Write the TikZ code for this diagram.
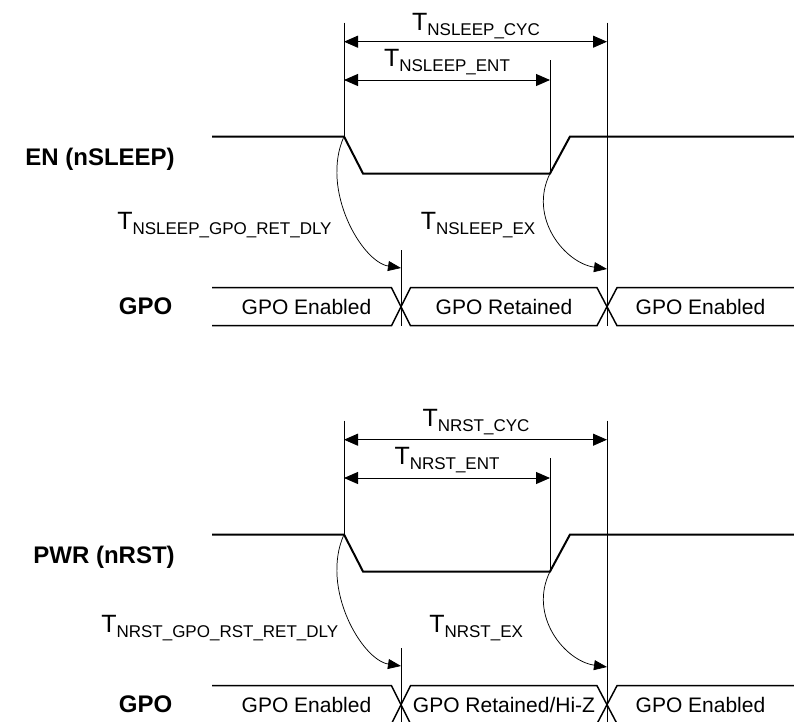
\documentclass[tikz,border=0pt]{standalone}
\usepackage{fontspec}
\setmainfont{Liberation Sans}
\usetikzlibrary{arrows.meta}
\newcommand\Tlab[1]{{\fontsize{18.75pt}{20pt}\selectfont T}\raisebox{-3.75pt}{\fontsize{12.75pt}{14pt}\selectfont #1}}
\tikzset{
  sig/.style={line width=1.5pt, line join=miter},
  bus/.style={line width=1.1pt, line join=miter},
  guide/.style={line width=0.75pt},
  dim/.style={line width=0.7pt, {Triangle[length=10.5pt,width=9pt]}-{Triangle[length=10.5pt,width=9pt]}},
  delay/.style={line width=0.55pt, -{Triangle[length=9.75pt,width=7.5pt]}},
  lbl/.style={inner sep=0pt, font=\fontsize{18pt}{20pt}\selectfont\bfseries},
  bustxt/.style={inner sep=0pt, anchor=base, font=\fontsize{15.75pt}{18pt}\selectfont},
  tl/.style={inner sep=0pt}
}
\begin{document}
\begin{tikzpicture}[x=0.75pt, y=-0.75pt]
\useasboundingbox (0,0) rectangle (794,722);
\clip (0,0) rectangle (794,722);
\foreach \dy/\sn/\gn/\bt/\ex/\cyc/\ent/\dly/\dlyx/\exx/\dshift in
  {0/{EN (nSLEEP)}/{GPO Retained}/t/{NSLEEP\_EX}/{NSLEEP\_CYC}/{NSLEEP\_ENT}/{NSLEEP\_GPO\_RET\_DLY}/117/420.5/0,
   398/{PWR (nRST)}/{GPO Retained/Hi-Z}/b/{NRST\_EX}/{NRST\_CYC}/{NRST\_ENT}/{NRST\_GPO\_RST\_RET\_DLY}/101/429/5.5}
{
  \begin{scope}[yshift=-\dy*0.75pt]
  % key coordinates
  \coordinate (hi0\bt) at (212,136.5);
  \coordinate (fall\bt) at (344,136.5);
  \coordinate (low1\bt) at (363,173.5);
  \coordinate (rise\bt) at (550,173.5);
  \coordinate (hi1\bt) at (570,136.5);
  \coordinate (hiE\bt) at (794,136.5);
  \coordinate (v1top\bt) at (344,22.7);
  \coordinate (v2top\bt) at (550,60);
  \coordinate (v3top\bt) at (607,22.7);
  \coordinate (v3bot\bt) at (607,325.7);
  \coordinate (v4top\bt) at (401,250);
  \coordinate (v4bot\bt) at (401,325.7);
  \coordinate (x1\bt) at (401,306.7);
  \coordinate (x2\bt) at (607,306.7);
  \coordinate (tip1\bt) at (401,268);
  \coordinate (tip2\bt) at (607,269);
  \coordinate (cycL\bt) at (344,41.7);
  \coordinate (cycR\bt) at (607,41.7);
  \coordinate (entL\bt) at (344,80);
  \coordinate (entR\bt) at (550,80);
  % signal
  \draw[sig] (hi0\bt) -- (fall\bt) -- (low1\bt) -- (rise\bt) -- (hi1\bt) -- (hiE\bt);
  % guides
  \draw[guide] (v1top\bt) -- (fall\bt);
  \draw[guide] (v2top\bt) -- (rise\bt);
  \draw[guide] (v3top\bt) -- (v3bot\bt);
  \draw[guide] (v4top\bt) -- (v4bot\bt);
  % dimensions
  \draw[dim] (cycL\bt) -- (cycR\bt);
  \draw[dim] (entL\bt) -- (entR\bt);
  \node[tl, anchor=base] (cyc\bt) at (476,{30-\dshift*0.2}) {\Tlab{\cyc}};
  \node[tl, anchor=base] (ent\bt) at (447,66.7) {\Tlab{\ent}};
  % delay arrows
  \draw[delay] (fall\bt) .. controls (320,190) and (362,262) .. (tip1\bt);
  \draw[delay] (rise\bt) .. controls (528,218) and (565,263) .. (tip2\bt);
  \node[tl, anchor=base west] (dly\bt) at (\dlyx,{229.3+\dshift}) {\Tlab{\dly}};
  \node[tl, anchor=base west] (exl\bt) at (\exx,{229.3+\dshift}) {\Tlab{\ex}};
  % bus
  \draw[bus] (212,287.7) -- (391.5,287.7) -- (x1\bt) -- (391.5,325.7) -- (212,325.7);
  \draw[bus] (x1\bt) -- (410.5,287.7) -- (597,287.7) -- (x2\bt) -- (597,325.7) -- (410.5,325.7) -- cycle;
  \draw[bus] (794,287.7) -- (617,287.7) -- (x2\bt) -- (617,325.7) -- (794,325.7);
  \node[bustxt] (b1\bt) at (306.5,314) {GPO Enabled};
  \node[bustxt] (b2\bt) at (504,314) {\gn};
  \node[bustxt] (b3\bt) at (700.5,314) {GPO Enabled};
  % labels
  \node[lbl, anchor=base east] (sig\bt) at (175,165) {\sn};
  \node[lbl, anchor=base] (gpo\bt) at (145.5,314.5) {GPO};
  \end{scope}
}
\end{tikzpicture}
\end{document}
